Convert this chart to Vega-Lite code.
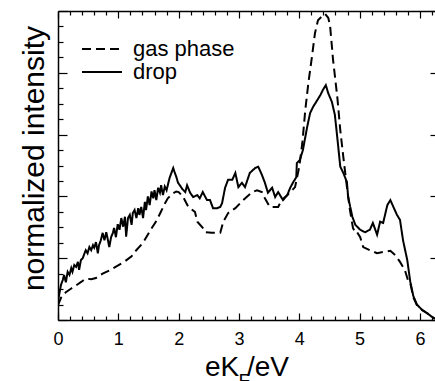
{
  "$schema": "https://vega.github.io/schema/vega-lite/v6.json",
  "autosize": "none",
  "padding": {"left": 58, "top": 11, "right": 0, "bottom": 61},
  "width": 377,
  "height": 309,
  "background": "white",
  "config": {
    "view": {"stroke": null},
    "font": "Liberation Sans",
    "axis": {"domainColor": "black", "domainWidth": 1.5, "tickColor": "black", "tickWidth": 1.2, "grid": false, "labelColor": "black", "titleColor": "black", "titleFontWeight": "normal", "labelFont": "Liberation Sans", "titleFont": "Liberation Sans"}
  },
  "data": {"values": [
    {"s": "gas phase", "x": 0, "y": 0.24},
    {"s": "gas phase", "x": 0.05, "y": 0.36},
    {"s": "gas phase", "x": 0.13, "y": 0.45},
    {"s": "gas phase", "x": 0.22, "y": 0.51},
    {"s": "gas phase", "x": 0.30, "y": 0.56},
    {"s": "gas phase", "x": 0.39, "y": 0.62},
    {"s": "gas phase", "x": 0.46, "y": 0.67},
    {"s": "gas phase", "x": 0.55, "y": 0.66},
    {"s": "gas phase", "x": 0.63, "y": 0.68},
    {"s": "gas phase", "x": 0.74, "y": 0.75},
    {"s": "gas phase", "x": 0.85, "y": 0.80},
    {"s": "gas phase", "x": 0.99, "y": 0.88},
    {"s": "gas phase", "x": 1.11, "y": 0.95},
    {"s": "gas phase", "x": 1.22, "y": 1.03},
    {"s": "gas phase", "x": 1.27, "y": 1.10},
    {"s": "gas phase", "x": 1.41, "y": 1.25},
    {"s": "gas phase", "x": 1.55, "y": 1.48},
    {"s": "gas phase", "x": 1.63, "y": 1.60},
    {"s": "gas phase", "x": 1.71, "y": 1.76},
    {"s": "gas phase", "x": 1.77, "y": 1.88},
    {"s": "gas phase", "x": 1.82, "y": 1.97},
    {"s": "gas phase", "x": 1.91, "y": 2.05},
    {"s": "gas phase", "x": 1.96, "y": 2.08},
    {"s": "gas phase", "x": 2.0, "y": 2.07},
    {"s": "gas phase", "x": 2.07, "y": 2.00},
    {"s": "gas phase", "x": 2.16, "y": 1.83},
    {"s": "gas phase", "x": 2.27, "y": 1.75},
    {"s": "gas phase", "x": 2.31, "y": 1.59},
    {"s": "gas phase", "x": 2.40, "y": 1.49},
    {"s": "gas phase", "x": 2.44, "y": 1.42},
    {"s": "gas phase", "x": 2.55, "y": 1.41},
    {"s": "gas phase", "x": 2.69, "y": 1.41},
    {"s": "gas phase", "x": 2.74, "y": 1.59},
    {"s": "gas phase", "x": 2.82, "y": 1.73},
    {"s": "gas phase", "x": 2.94, "y": 1.81},
    {"s": "gas phase", "x": 3.07, "y": 1.94},
    {"s": "gas phase", "x": 3.22, "y": 2.07},
    {"s": "gas phase", "x": 3.30, "y": 2.10},
    {"s": "gas phase", "x": 3.38, "y": 2.07},
    {"s": "gas phase", "x": 3.43, "y": 1.97},
    {"s": "gas phase", "x": 3.51, "y": 1.83},
    {"s": "gas phase", "x": 3.65, "y": 1.83},
    {"s": "gas phase", "x": 3.71, "y": 1.94},
    {"s": "gas phase", "x": 3.80, "y": 2.02},
    {"s": "gas phase", "x": 3.93, "y": 2.15},
    {"s": "gas phase", "x": 4.0, "y": 2.48},
    {"s": "gas phase", "x": 4.05, "y": 2.86},
    {"s": "gas phase", "x": 4.10, "y": 3.40},
    {"s": "gas phase", "x": 4.15, "y": 3.83},
    {"s": "gas phase", "x": 4.21, "y": 4.26},
    {"s": "gas phase", "x": 4.26, "y": 4.64},
    {"s": "gas phase", "x": 4.31, "y": 4.85},
    {"s": "gas phase", "x": 4.38, "y": 4.92},
    {"s": "gas phase", "x": 4.43, "y": 4.95},
    {"s": "gas phase", "x": 4.48, "y": 4.89},
    {"s": "gas phase", "x": 4.51, "y": 4.77},
    {"s": "gas phase", "x": 4.56, "y": 4.21},
    {"s": "gas phase", "x": 4.63, "y": 3.61},
    {"s": "gas phase", "x": 4.68, "y": 3.07},
    {"s": "gas phase", "x": 4.73, "y": 2.64},
    {"s": "gas phase", "x": 4.79, "y": 2.15},
    {"s": "gas phase", "x": 4.84, "y": 1.78},
    {"s": "gas phase", "x": 4.89, "y": 1.49},
    {"s": "gas phase", "x": 4.93, "y": 1.41},
    {"s": "gas phase", "x": 4.96, "y": 1.42},
    {"s": "gas phase", "x": 5.01, "y": 1.34},
    {"s": "gas phase", "x": 5.06, "y": 1.18},
    {"s": "gas phase", "x": 5.17, "y": 1.13},
    {"s": "gas phase", "x": 5.29, "y": 1.08},
    {"s": "gas phase", "x": 5.39, "y": 1.10},
    {"s": "gas phase", "x": 5.51, "y": 1.12},
    {"s": "gas phase", "x": 5.59, "y": 1.05},
    {"s": "gas phase", "x": 5.67, "y": 0.94},
    {"s": "gas phase", "x": 5.75, "y": 0.81},
    {"s": "gas phase", "x": 5.80, "y": 0.65},
    {"s": "gas phase", "x": 5.84, "y": 0.60},
    {"s": "gas phase", "x": 5.89, "y": 0.37},
    {"s": "gas phase", "x": 5.95, "y": 0.24},
    {"s": "gas phase", "x": 6.04, "y": 0.16},
    {"s": "gas phase", "x": 6.12, "y": 0.11},
    {"s": "gas phase", "x": 6.20, "y": 0.05},
    {"s": "gas phase", "x": 6.25, "y": 0.02},
    {"s": "drop", "x": 0.0, "y": 0.30},
    {"s": "drop", "x": 0.01, "y": 0.36},
    {"s": "drop", "x": 0.05, "y": 0.57},
    {"s": "drop", "x": 0.08, "y": 0.65},
    {"s": "drop", "x": 0.10, "y": 0.73},
    {"s": "drop", "x": 0.13, "y": 0.61},
    {"s": "drop", "x": 0.16, "y": 0.78},
    {"s": "drop", "x": 0.19, "y": 0.73},
    {"s": "drop", "x": 0.22, "y": 0.84},
    {"s": "drop", "x": 0.24, "y": 0.78},
    {"s": "drop", "x": 0.27, "y": 0.89},
    {"s": "drop", "x": 0.30, "y": 0.86},
    {"s": "drop", "x": 0.33, "y": 0.94},
    {"s": "drop", "x": 0.35, "y": 0.81},
    {"s": "drop", "x": 0.38, "y": 0.97},
    {"s": "drop", "x": 0.41, "y": 1.00},
    {"s": "drop", "x": 0.44, "y": 1.08},
    {"s": "drop", "x": 0.46, "y": 1.13},
    {"s": "drop", "x": 0.49, "y": 1.08},
    {"s": "drop", "x": 0.52, "y": 1.18},
    {"s": "drop", "x": 0.55, "y": 1.13},
    {"s": "drop", "x": 0.58, "y": 1.21},
    {"s": "drop", "x": 0.60, "y": 1.17},
    {"s": "drop", "x": 0.63, "y": 1.26},
    {"s": "drop", "x": 0.66, "y": 1.08},
    {"s": "drop", "x": 0.68, "y": 1.21},
    {"s": "drop", "x": 0.71, "y": 1.29},
    {"s": "drop", "x": 0.74, "y": 1.41},
    {"s": "drop", "x": 0.77, "y": 1.29},
    {"s": "drop", "x": 0.80, "y": 1.42},
    {"s": "drop", "x": 0.82, "y": 1.33},
    {"s": "drop", "x": 0.85, "y": 1.18},
    {"s": "drop", "x": 0.88, "y": 1.34},
    {"s": "drop", "x": 0.91, "y": 1.41},
    {"s": "drop", "x": 0.93, "y": 1.49},
    {"s": "drop", "x": 0.96, "y": 1.34},
    {"s": "drop", "x": 0.99, "y": 1.55},
    {"s": "drop", "x": 1.02, "y": 1.46},
    {"s": "drop", "x": 1.05, "y": 1.65},
    {"s": "drop", "x": 1.08, "y": 1.51},
    {"s": "drop", "x": 1.11, "y": 1.67},
    {"s": "drop", "x": 1.13, "y": 1.35},
    {"s": "drop", "x": 1.16, "y": 1.65},
    {"s": "drop", "x": 1.19, "y": 1.70},
    {"s": "drop", "x": 1.22, "y": 1.54},
    {"s": "drop", "x": 1.24, "y": 1.73},
    {"s": "drop", "x": 1.27, "y": 1.78},
    {"s": "drop", "x": 1.30, "y": 1.65},
    {"s": "drop", "x": 1.33, "y": 1.81},
    {"s": "drop", "x": 1.35, "y": 1.70},
    {"s": "drop", "x": 1.38, "y": 1.83},
    {"s": "drop", "x": 1.41, "y": 1.65},
    {"s": "drop", "x": 1.44, "y": 1.91},
    {"s": "drop", "x": 1.46, "y": 1.78},
    {"s": "drop", "x": 1.49, "y": 2.00},
    {"s": "drop", "x": 1.52, "y": 1.86},
    {"s": "drop", "x": 1.55, "y": 2.08},
    {"s": "drop", "x": 1.58, "y": 1.97},
    {"s": "drop", "x": 1.60, "y": 2.10},
    {"s": "drop", "x": 1.63, "y": 1.94},
    {"s": "drop", "x": 1.66, "y": 2.14},
    {"s": "drop", "x": 1.69, "y": 2.06},
    {"s": "drop", "x": 1.71, "y": 2.18},
    {"s": "drop", "x": 1.74, "y": 2.02},
    {"s": "drop", "x": 1.77, "y": 2.16},
    {"s": "drop", "x": 1.80, "y": 2.10},
    {"s": "drop", "x": 1.82, "y": 2.18},
    {"s": "drop", "x": 1.85, "y": 2.30},
    {"s": "drop", "x": 1.88, "y": 2.38},
    {"s": "drop", "x": 1.91, "y": 2.46},
    {"s": "drop", "x": 1.93, "y": 2.40},
    {"s": "drop", "x": 1.96, "y": 2.32},
    {"s": "drop", "x": 1.99, "y": 2.22},
    {"s": "drop", "x": 2.02, "y": 2.18},
    {"s": "drop", "x": 2.06, "y": 2.12},
    {"s": "drop", "x": 2.11, "y": 2.07},
    {"s": "drop", "x": 2.14, "y": 2.18},
    {"s": "drop", "x": 2.19, "y": 2.06},
    {"s": "drop", "x": 2.24, "y": 1.99},
    {"s": "drop", "x": 2.31, "y": 2.02},
    {"s": "drop", "x": 2.35, "y": 1.97},
    {"s": "drop", "x": 2.40, "y": 2.07},
    {"s": "drop", "x": 2.47, "y": 1.94},
    {"s": "drop", "x": 2.52, "y": 1.94},
    {"s": "drop", "x": 2.57, "y": 1.81},
    {"s": "drop", "x": 2.64, "y": 1.81},
    {"s": "drop", "x": 2.69, "y": 1.83},
    {"s": "drop", "x": 2.72, "y": 1.89},
    {"s": "drop", "x": 2.77, "y": 2.14},
    {"s": "drop", "x": 2.82, "y": 2.27},
    {"s": "drop", "x": 2.89, "y": 2.27},
    {"s": "drop", "x": 2.94, "y": 2.38},
    {"s": "drop", "x": 2.99, "y": 2.15},
    {"s": "drop", "x": 3.05, "y": 2.22},
    {"s": "drop", "x": 3.10, "y": 2.15},
    {"s": "drop", "x": 3.18, "y": 2.38},
    {"s": "drop", "x": 3.27, "y": 2.46},
    {"s": "drop", "x": 3.32, "y": 2.48},
    {"s": "drop", "x": 3.38, "y": 2.35},
    {"s": "drop", "x": 3.43, "y": 2.22},
    {"s": "drop", "x": 3.48, "y": 2.06},
    {"s": "drop", "x": 3.55, "y": 2.14},
    {"s": "drop", "x": 3.60, "y": 1.99},
    {"s": "drop", "x": 3.65, "y": 2.07},
    {"s": "drop", "x": 3.73, "y": 1.94},
    {"s": "drop", "x": 3.80, "y": 2.02},
    {"s": "drop", "x": 3.85, "y": 2.14},
    {"s": "drop", "x": 3.90, "y": 2.23},
    {"s": "drop", "x": 3.95, "y": 2.31},
    {"s": "drop", "x": 3.96, "y": 2.54},
    {"s": "drop", "x": 4.01, "y": 2.59},
    {"s": "drop", "x": 4.06, "y": 2.75},
    {"s": "drop", "x": 4.13, "y": 3.12},
    {"s": "drop", "x": 4.18, "y": 3.35},
    {"s": "drop", "x": 4.23, "y": 3.45},
    {"s": "drop", "x": 4.30, "y": 3.56},
    {"s": "drop", "x": 4.35, "y": 3.64},
    {"s": "drop", "x": 4.39, "y": 3.72},
    {"s": "drop", "x": 4.44, "y": 3.80},
    {"s": "drop", "x": 4.48, "y": 3.67},
    {"s": "drop", "x": 4.54, "y": 3.53},
    {"s": "drop", "x": 4.59, "y": 3.32},
    {"s": "drop", "x": 4.64, "y": 2.86},
    {"s": "drop", "x": 4.68, "y": 2.48},
    {"s": "drop", "x": 4.73, "y": 2.38},
    {"s": "drop", "x": 4.79, "y": 2.23},
    {"s": "drop", "x": 4.81, "y": 1.99},
    {"s": "drop", "x": 4.88, "y": 1.67},
    {"s": "drop", "x": 4.93, "y": 1.54},
    {"s": "drop", "x": 5.01, "y": 1.46},
    {"s": "drop", "x": 5.09, "y": 1.42},
    {"s": "drop", "x": 5.17, "y": 1.46},
    {"s": "drop", "x": 5.22, "y": 1.57},
    {"s": "drop", "x": 5.29, "y": 1.38},
    {"s": "drop", "x": 5.34, "y": 1.59},
    {"s": "drop", "x": 5.39, "y": 1.57},
    {"s": "drop", "x": 5.46, "y": 1.86},
    {"s": "drop", "x": 5.51, "y": 1.94},
    {"s": "drop", "x": 5.56, "y": 1.83},
    {"s": "drop", "x": 5.62, "y": 1.70},
    {"s": "drop", "x": 5.67, "y": 1.62},
    {"s": "drop", "x": 5.72, "y": 1.29},
    {"s": "drop", "x": 5.79, "y": 0.97},
    {"s": "drop", "x": 5.84, "y": 0.62},
    {"s": "drop", "x": 5.89, "y": 0.39},
    {"s": "drop", "x": 5.95, "y": 0.25},
    {"s": "drop", "x": 6.04, "y": 0.16},
    {"s": "drop", "x": 6.12, "y": 0.11},
    {"s": "drop", "x": 6.20, "y": 0.05},
    {"s": "drop", "x": 6.25, "y": 0.02}
  ]},
  "layer": [
    {
      "mark": {"type": "line", "color": "black", "strokeWidth": 2, "clip": true},
      "encoding": {
        "x": {"field": "x", "type": "quantitative", "scale": {"domain": [0, 6.25], "nice": false, "zero": false},
          "axis": {"orient": "bottom", "values": [0,0.2,0.4,0.6,0.8,1,1.2,1.4,1.6,1.8,2,2.2,2.4,2.6,2.8,3,3.2,3.4,3.6,3.8,4,4.2,4.4,4.6,4.8,5,5.2,5.4,5.6,5.8,6,6.2],
            "tickSize": {"condition": {"test": "datum.value % 1 === 0", "value": -7}, "value": -4},
            "labelExpr": "datum.value % 1 === 0 ? format(datum.value, 'd') : ''",
            "labelFontSize": 18, "labelPadding": 17, "labelOverlap": false, "labelFlush": false,
            "title": "eK  /eV", "titleFontSize": 28, "titleBaseline": "alphabetic", "titleY": 55}},
        "y": {"field": "y", "type": "quantitative", "scale": {"domain": [0, 5], "nice": false, "zero": false},
          "axis": {"orient": "left", "values": [0,0.25,0.5,0.75,1,1.25,1.5,1.75,2,2.25,2.5,2.75,3,3.25,3.5,3.75,4,4.25,4.5,4.75,5],
            "tickSize": {"condition": {"test": "datum.value % 1 === 0", "value": -9}, "value": -5},
            "labels": false,
            "title": "normalized intensity", "titleFontSize": 30, "titleBaseline": "alphabetic", "titleX": -15, "titleY": 147}},
        "strokeDash": {"field": "s", "type": "nominal",
          "scale": {"domain": ["gas phase", "drop"], "range": [[9, 5], [1, 0]]},
          "legend": {"orient": "none", "legendX": 33, "legendY": 27, "title": null, "padding": 0,
            "symbolType": "M-4,0H4", "symbolSize": 100, "symbolStrokeWidth": 2, "symbolStrokeColor": "black",
            "labelFontSize": 22, "labelOffset": 20, "rowPadding": 1, "labelColor": "black", "labelFont": "Liberation Sans"}}
      }
    },
    {
      "mark": {"type": "point", "opacity": 0},
      "encoding": {
        "x": {"field": "x", "type": "quantitative",
          "axis": {"orient": "top", "values": [0,0.2,0.4,0.6,0.8,1,1.2,1.4,1.6,1.8,2,2.2,2.4,2.6,2.8,3,3.2,3.4,3.6,3.8,4,4.2,4.4,4.6,4.8,5,5.2,5.4,5.6,5.8,6,6.2],
            "tickSize": {"condition": {"test": "datum.value % 1 === 0", "value": -7}, "value": -4},
            "labels": false,
            "title": "F", "titleFontSize": 19, "titleBaseline": "alphabetic", "titleAlign": "left", "titleX": 180, "titleY": 375}},
        "y": {"field": "y", "type": "quantitative",
          "axis": {"orient": "right", "values": [0,1,2,3,4,5], "tickSize": -5, "labels": false, "domain": false, "title": null}}
      }
    }
  ],
  "resolve": {"axis": {"x": "independent", "y": "independent"}}
}
